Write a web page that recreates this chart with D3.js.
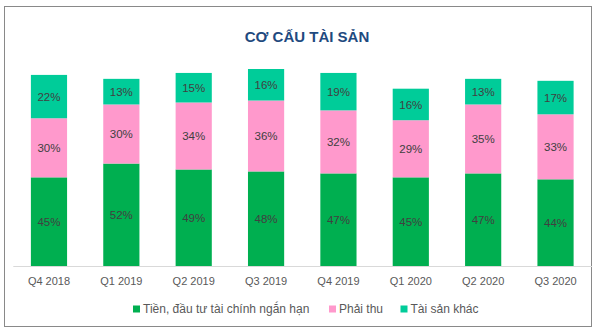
<!DOCTYPE html>
<html>
<head>
<meta charset="utf-8">
<script src="https://cdn.jsdelivr.net/npm/d3@7"></script>
<style>
  html, body { margin: 0; padding: 0; background: #fff; }
  svg { display: block; }
</style>
</head>
<body>
<svg id="chart" width="597" height="335"></svg>
<script>
const title = "CƠ CẤU TÀI SẢN";
const categories = ["Q4 2018", "Q1 2019", "Q2 2019", "Q3 2019", "Q4 2019", "Q1 2020", "Q2 2020", "Q3 2020"];
const seriesNames = ["Tiền, đầu tư tài chính ngắn hạn", "Phải thu", "Tài sản khác"];
const cash = [45, 52, 49, 48, 47, 45, 47, 44];
const receivables = [30, 30, 34, 36, 32, 29, 35, 33];
const otherAssets = [22, 13, 15, 16, 19, 16, 13, 17];
const colors = ["#00AF50", "#FF99CC", "#00CC99"];

const keys = ["s0", "s1", "s2"];
const table = categories.map((c, i) => ({ cat: c, s0: cash[i], s1: receivables[i], s2: otherAssets[i] }));
const stacked = d3.stack().keys(keys)(table);

const svg = d3.select("#chart");
const font = "'Liberation Sans', Arial, sans-serif";

// frame
svg.append("rect").attr("x", 4.5).attr("y", 6.5).attr("width", 587).attr("height", 320)
  .attr("fill", "#fff").attr("stroke", "#898989").attr("stroke-width", 1);

// title
svg.append("text").attr("x", 307).attr("y", 41.5).attr("text-anchor", "middle")
  .attr("font-family", font).attr("font-weight", "bold").attr("font-size", 15)
  .attr("fill", "#1F4A80").text(title);

const x = d3.scaleBand().domain(categories).range([12.8, 591.7]).paddingInner(0.5).paddingOuter(0.25);
const y = d3.scaleLinear().domain([0, 100]).range([266, 69]);

const g = svg.append("g");
stacked.forEach((layer, si) => {
  const lg = g.append("g");
  lg.selectAll("rect").data(layer).enter().append("rect")
    .attr("x", d => x(d.data.cat))
    .attr("y", d => y(d[1]))
    .attr("width", x.bandwidth())
    .attr("height", d => y(d[0]) - y(d[1]))
    .attr("fill", colors[si]);
  lg.selectAll("text").data(layer).enter().append("text")
    .attr("x", d => x(d.data.cat) + x.bandwidth() / 2)
    .attr("y", d => (y(d[0]) + y(d[1])) / 2)
    .attr("dy", "0.36em")
    .attr("text-anchor", "middle")
    .attr("font-family", font).attr("font-size", 11.5)
    .attr("fill", "#404040")
    .text(d => (d[1] - d[0]) + "%");
});

// x axis
const xAxis = d3.axisBottom(x).tickSize(0).tickPadding(11);
const ax = svg.append("g").attr("transform", "translate(0,266)").call(xAxis);
ax.select(".domain").attr("stroke", "#D9D9D9").attr("stroke-width", 1.2);
ax.selectAll("text").attr("font-family", font).attr("font-size", 11).attr("fill", "#595959");

// legend
const legendItems = [
  { name: seriesNames[0], color: colors[0], x: 133 },
  { name: seriesNames[1], color: colors[1], x: 329 },
  { name: seriesNames[2], color: colors[2], x: 400.5 }
];
const lgd = svg.append("g");
legendItems.forEach(it => {
  lgd.append("rect").attr("x", it.x).attr("y", 305.5).attr("width", 7).attr("height", 7).attr("fill", it.color);
  lgd.append("text").attr("x", it.x + 10).attr("y", 309).attr("dy", "0.36em")
    .attr("font-family", font).attr("font-size", 12).attr("fill", "#595959").text(it.name);
});
</script>
</body>
</html>
